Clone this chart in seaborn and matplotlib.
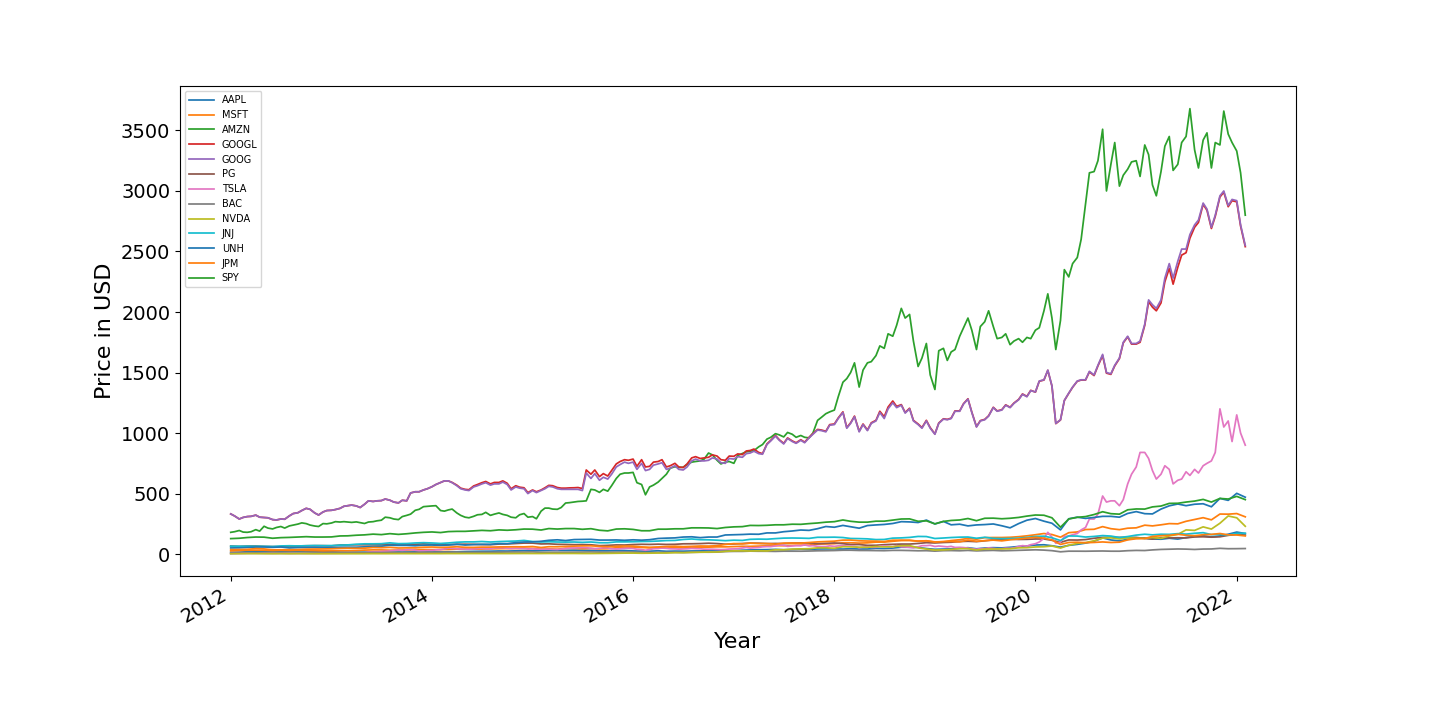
import matplotlib
matplotlib.use("Agg")
import matplotlib.pyplot as plt
import pandas as pd
import seaborn as sns

# ---------------- data ----------------
tickers = ["AAPL", "MSFT", "AMZN", "GOOGL", "GOOG", "PG", "TSLA", "BAC",
           "NVDA", "JNJ", "UNH", "JPM", "SPY"]

# semi-monthly series (1st and 15th of each month, 2012-01-01 .. 2022-02-01)
amzn = [
    180, 185, 195, 182, 180, 185, 202, 190, 230, 215, 208, 220, 228, 215, 233, 240, 248, 258, 252, 240, 232, 228, 252, 250,
    257, 268, 265, 268, 265, 262, 266, 260, 253, 265, 268, 275, 280, 305, 300, 290, 285, 310, 320, 330, 362, 370, 392, 395,
    398, 400, 360, 355, 365, 372, 340, 320, 305, 300, 312, 325, 328, 345, 320, 330, 340, 328, 320, 305, 300, 325, 335, 305,
    310, 292, 355, 380, 380, 372, 370, 385, 422, 425, 430, 435, 437, 440, 535, 530, 510, 535, 520, 565, 625, 660, 670, 670,
    675, 590, 575, 490, 555, 570, 595, 625, 660, 710, 722, 715, 718, 740, 760, 765, 770, 785, 835, 820, 775, 745, 760, 765,
    750, 815, 832, 845, 850, 855, 886, 905, 950, 965, 995, 985, 968, 1005, 990, 965, 980, 965, 960, 1000, 1105, 1130, 1160, 1175,
    1190, 1300, 1420, 1450, 1500, 1580, 1380, 1520, 1580, 1590, 1640, 1720, 1700, 1820, 1800, 1890, 2030, 1950, 1980, 1760, 1550, 1620, 1740, 1480,
    1360, 1680, 1700, 1600, 1670, 1690, 1800, 1870, 1950, 1850, 1690, 1880, 1920, 2010, 1880, 1780, 1790, 1820, 1730, 1760, 1780, 1750, 1790, 1780,
    1850, 1870, 2010, 2150, 1950, 1690, 1930, 2350, 2290, 2400, 2450, 2600, 2890, 3150, 3160, 3250, 3510, 3000, 3220, 3400, 3040, 3130, 3180, 3240,
    3250, 3120, 3380, 3300, 3050, 2960, 3160, 3370, 3450, 3170, 3220, 3400, 3450, 3680, 3340, 3190, 3420, 3480, 3190, 3400, 3380, 3660, 3470, 3400,
    3330, 3150, 2800,
]
goog = [
    332, 315, 290, 303, 310, 312, 322, 305, 302, 300, 285, 282, 290, 288, 316, 335, 342, 360, 378, 370, 340, 323, 348, 360,
    362, 368, 378, 395, 400, 405, 398, 385, 412, 440, 435, 440, 442, 455, 445, 430, 423, 445, 440, 505, 515, 515, 530, 540,
    557, 575, 592, 605, 605, 590, 565, 540, 530, 525, 555, 565, 580, 590, 570, 580, 580, 595, 575, 530, 555, 545, 540, 500,
    525, 508, 525, 540, 560, 555, 540, 535, 535, 535, 535, 535, 525, 670, 625, 665, 610, 635, 620, 660, 720, 740, 760, 750,
    760, 700, 750, 690, 700, 735, 745, 755, 700, 710, 730, 700, 695, 720, 770, 785, 770, 770, 775, 795, 785, 755, 750, 790,
    785, 805, 800, 830, 835, 850, 830, 825, 905, 935, 975, 940, 910, 955, 930, 915, 940, 920, 960, 990, 1025, 1020, 1010, 1065,
    1070, 1120, 1170, 1040, 1080, 1135, 1010, 1070, 1020, 1080, 1100, 1170, 1120, 1200, 1250, 1210, 1230, 1165, 1200, 1100, 1070, 1040, 1100, 1040,
    990, 1080, 1115, 1110, 1120, 1180, 1180, 1240, 1280, 1170, 1050, 1100, 1110, 1140, 1210, 1180, 1190, 1230, 1210, 1245, 1275, 1320, 1300, 1350,
    1340, 1430, 1440, 1520, 1390, 1080, 1110, 1270, 1330, 1380, 1430, 1440, 1440, 1510, 1480, 1560, 1650, 1500, 1490, 1560, 1620, 1750, 1800, 1740,
    1740, 1760, 1900, 2100, 2060, 2030, 2100, 2280, 2400, 2280, 2420, 2520, 2520, 2640, 2720, 2760, 2900, 2850, 2700, 2800, 2960, 3000, 2880, 2930,
    2920, 2720, 2550,
]
googl = [
    332, 315, 290, 303, 310, 312, 322, 305, 302, 300, 285, 282, 290, 288, 316, 335, 342, 360, 378, 370, 340, 323, 348, 360,
    362, 368, 378, 395, 400, 405, 398, 385, 412, 440, 435, 440, 442, 455, 445, 430, 423, 445, 440, 505, 515, 515, 530, 540,
    557, 575, 592, 605, 605, 592, 570, 545, 535, 532, 563, 575, 590, 600, 580, 592, 592, 605, 585, 540, 565, 553, 548, 508,
    530, 515, 530, 548, 568, 565, 550, 545, 545, 547, 548, 550, 542, 695, 660, 695, 640, 665, 645, 690, 745, 765, 780, 775,
    785, 725, 780, 720, 725, 760, 765, 780, 720, 730, 750, 720, 715, 745, 795, 805, 790, 795, 800, 820, 810, 780, 775, 810,
    808, 828, 822, 852, 856, 868, 840, 830, 910, 940, 980, 945, 915, 960, 935, 920, 945, 925, 965, 995, 1030, 1025, 1015, 1070,
    1075, 1125, 1175, 1045, 1085, 1140, 1015, 1075, 1025, 1085, 1105, 1180, 1135, 1215, 1265, 1220, 1235, 1170, 1205, 1105, 1075, 1045, 1105, 1045,
    993, 1083, 1118, 1113, 1123, 1183, 1183, 1243, 1283, 1173, 1053, 1103, 1113, 1143, 1213, 1183, 1193, 1233, 1213, 1248, 1278, 1323, 1303, 1353,
    1338, 1428, 1438, 1518, 1388, 1078, 1108, 1268, 1328, 1378, 1428, 1438, 1438, 1505, 1475, 1555, 1640, 1495, 1485, 1555, 1615, 1745, 1795, 1735,
    1735, 1750, 1890, 2085, 2040, 2010, 2075, 2250, 2360, 2230, 2370, 2470, 2490, 2610, 2700, 2740, 2890, 2840, 2690, 2790, 2950, 2990, 2870, 2920,
    2910, 2710, 2540,
]
tsla = [
    5.7, 5.5, 5.8, 6.6, 6.6, 6.8, 7.0, 6.5, 6.6, 6.2, 6.6, 6.4, 6.2, 6.6, 5.6, 5.8, 5.8, 5.8, 5.6, 5.8, 5.6, 6.5, 6.6, 6.8,
    7.0, 7.2, 7.4, 7.4, 7.0, 7.6, 7.6, 8.5, 10.5, 17.0, 19.5, 19.5, 21.5, 23.8, 26.0, 29.0, 33.4, 30.5, 36.5, 37.0, 32.0, 26.5, 27.0, 29.8,
    30.0, 35.0, 36.5, 42.5, 49.0, 48.0, 44.0, 43.0, 41.0, 40.2, 42.0, 45.5, 48.0, 43.5, 44.5, 50.6, 52.0, 52.0, 48.0, 46.0, 48.0, 46.5, 48.0, 42.0,
    43.5, 41.0, 40.8, 41.5, 40.6, 39.0, 38.0, 41.5, 46.0, 49.0, 50.2, 51.5, 54.0, 53.0, 48.0, 44.0, 48.0, 51.8, 50.4, 44.0, 42.0, 44.6, 47.0, 48.0,
    46.0, 40.0, 38.0, 32.0, 38.0, 44.0, 46.0, 50.0, 47.5, 44.0, 43.0, 41.0, 42.6, 44.0, 47.0, 45.0, 44.0, 41.0, 40.0, 40.2, 38.0, 37.0, 38.6, 42.0,
    43.0, 45.0, 50.0, 55.0, 50.0, 52.0, 55.0, 60.0, 62.4, 62.0, 68.0, 75.0, 73.0, 64.0, 67.0, 70.0, 69.0, 76.0, 68.0, 70.0, 64.0, 62.0, 62.4, 68.0,
    64.0, 68.0, 70.0, 67.0, 66.0, 64.0, 53.0, 58.0, 60.0, 56.0, 57.0, 66.0, 68.0, 64.0, 60.0, 70.0, 60.0, 59.0, 56.0, 52.0, 60.0, 70.0, 70.0, 73.0,
    63.0, 67.0, 63.0, 60.0, 64.0, 55.0, 56.0, 54.0, 50.0, 45.0, 40.0, 45.0, 45.0, 51.0, 47.0, 44.0, 45.0, 49.0, 48.0, 52.0, 63.0, 70.0, 66.0, 78.0,
    86, 100, 130, 180, 140, 90, 100, 145, 150, 160, 170, 200, 220, 290, 290, 330, 480, 430, 440, 440, 400, 450, 580, 660,
    720, 840, 840, 790, 690, 620, 660, 730, 700, 580, 610, 620, 680, 650, 700, 670, 730, 750, 770, 840, 1200, 1050, 1100, 930,
    1150, 1000, 900,
]

# monthly series (1st of each month, 2012-01-01 .. 2022-02-01)
aapl = [
    14.7, 16.3, 19.4, 21.5, 20.9, 20.6, 21.1, 21.7, 23.8, 24.9, 21.3, 21.0,
    19.0, 16.3, 15.7, 15.8, 15.8, 16.0, 14.0, 16.3, 17.3, 17.3, 18.7, 19.9,
    19.8, 17.9, 18.8, 19.2, 21.1, 22.6, 23.6, 24.0, 25.7, 25.2, 27.0, 29.7,
    27.3, 29.3, 32.3, 31.2, 31.5, 32.5, 31.6, 30.3, 27.6, 27.4, 30.0, 29.6,
    26.3, 24.4, 24.2, 27.3, 23.4, 24.9, 24.2, 26.0, 26.5, 28.3, 28.3, 27.6,
    29.0, 32.5, 34.4, 36.0, 36.9, 38.9, 36.0, 37.5, 41.0, 38.9, 42.3, 43.0,
    43.1, 41.9, 44.5, 41.9, 42.3, 47.5, 46.0, 50.0, 57.0, 56.6, 55.4, 46.0,
    39.5, 41.6, 43.5, 47.5, 52.9, 43.8, 50.4, 53.2, 51.4, 56.1, 63.0, 66.8,
    75.1, 77.2, 69.0, 57.5, 72.3, 80.5, 91.0, 106.0, 134.0, 116.8, 108.8, 122.0,
    133.0, 134.0, 125.0, 123.0, 131.0, 124.0, 137.0, 145.0, 152.0, 142.0, 150.0, 164.0,
    182.0, 170.0,
]
msft = [
    26.8, 29.5, 31.7, 32.1, 31.5, 29.1, 30.6, 29.5, 30.8, 29.5, 28.5, 26.7,
    27.4, 27.9, 28.0, 29.0, 33.0, 35.0, 34.5, 32.0, 33.5, 34.0, 36.0, 38.0,
    37.0, 37.8, 38.0, 41.0, 40.5, 41.0, 42.0, 43.0, 45.0, 46.0, 46.5, 48.0,
    46.5, 41.0, 43.5, 40.5, 48.5, 47.0, 44.5, 46.5, 43.5, 44.5, 52.5, 54.0,
    55.5, 55.0, 51.0, 55.0, 50.0, 53.0, 51.0, 56.5, 57.5, 57.5, 60.0, 60.0,
    62.0, 64.5, 64.0, 66.0, 68.5, 70.0, 69.0, 72.5, 74.0, 74.5, 83.0, 84.0,
    86.0, 94.0, 94.0, 91.0, 93.0, 99.0, 99.0, 106.0, 112.0, 114.0, 106.0, 110.0,
    101.0, 102.0, 112.0, 119.0, 130.0, 123.0, 136.0, 137.0, 137.0, 139.0, 144.0, 151.0,
    160.0, 170.0, 162.0, 140.0, 177.0, 183.0, 203.0, 205.0, 227.0, 210.0, 202.0, 214.0,
    217.0, 239.0, 233.0, 242.0, 252.0, 250.0, 271.0, 286.0, 301.0, 283.0, 331.0, 330.0,
    335.0, 308.0,
]
pg = [
    66.5, 63.5, 66.5, 67.0, 63.5, 62.0, 61.0, 64.5, 67.0, 69.0, 69.5, 70.0,
    68.0, 75.0, 76.0, 77.0, 77.0, 77.0, 77.0, 80.0, 78.0, 76.0, 81.0, 85.0,
    81.0, 77.0, 78.0, 80.0, 82.0, 80.5, 78.5, 77.5, 83.0, 84.0, 87.5, 91.0,
    91.0, 84.0, 85.0, 81.0, 80.0, 78.0, 78.5, 77.0, 70.0, 72.0, 76.0, 75.0,
    79.0, 81.0, 80.0, 82.0, 80.0, 81.0, 85.0, 85.5, 87.0, 90.0, 87.0, 82.0,
    84.0, 87.5, 91.0, 90.0, 87.0, 88.0, 87.0, 91.0, 92.0, 91.0, 86.0, 89.0,
    92.0, 86.0, 79.0, 79.0, 72.5, 73.0, 78.0, 81.0, 83.0, 83.0, 88.0, 94.5,
    92.0, 96.0, 98.0, 104.0, 106.0, 103.0, 110.0, 118.0, 120.0, 124.0, 121.0, 122.0,
    125.0, 125.0, 114.0, 97.0, 117.0, 116.0, 120.0, 131.0, 138.0, 139.0, 138.0, 138.0,
    138.0, 129.0, 124.0, 136.0, 134.0, 135.0, 134.0, 142.0, 143.0, 140.0, 143.0, 155.0,
    163.0, 157.0,
]
bac = [
    5.8, 7.3, 8.0, 9.6, 8.1, 7.4, 8.2, 7.3, 8.0, 8.8, 9.3, 9.9,
    11.6, 11.3, 11.2, 12.2, 12.3, 13.7, 12.9, 14.6, 14.1, 13.8, 14.0, 15.8,
    15.6, 16.7, 16.5, 17.2, 15.1, 15.1, 15.4, 15.3, 16.1, 17.0, 17.2, 17.0,
    17.9, 15.2, 15.8, 15.4, 15.9, 16.5, 17.0, 17.9, 16.3, 15.6, 16.8, 17.4,
    16.8, 14.2, 12.5, 13.5, 14.6, 14.8, 13.3, 14.5, 16.1, 15.7, 16.5, 21.1,
    22.5, 22.6, 24.7, 23.6, 23.4, 22.4, 24.3, 24.1, 24.0, 25.3, 27.4, 28.2,
    29.5, 32.0, 32.1, 30.0, 29.9, 29.0, 28.2, 30.9, 30.9, 29.5, 27.5, 28.4,
    24.6, 28.5, 29.2, 27.6, 30.6, 26.6, 29.0, 30.7, 27.5, 29.2, 31.3, 33.3,
    35.6, 33.0, 28.5, 19.0, 24.2, 24.2, 23.8, 24.9, 25.7, 24.1, 24.0, 28.2,
    30.5, 29.6, 34.7, 38.7, 40.5, 42.4, 41.2, 38.4, 41.8, 42.5, 47.8, 44.5,
    45.0, 46.0,
]
nvda = [
    3.4, 3.6, 3.8, 3.9, 3.3, 3.2, 3.5, 3.2, 3.5, 3.3, 3.0, 3.0,
    3.1, 3.2, 3.2, 3.2, 3.4, 3.6, 3.5, 3.7, 3.9, 3.9, 3.8, 3.9,
    4.0, 4.0, 4.5, 4.5, 4.7, 4.7, 4.6, 4.6, 4.6, 4.6, 4.9, 5.2,
    5.0, 5.0, 5.5, 5.3, 5.5, 5.5, 5.0, 5.0, 5.6, 6.2, 7.1, 8.0,
    8.3, 7.2, 7.8, 9.0, 9.0, 11.7, 11.7, 14.3, 15.5, 17.1, 17.3, 23.0,
    26.7, 27.3, 25.5, 27.3, 26.0, 35.8, 36.0, 41.6, 43.0, 44.7, 51.9, 52.0,
    48.4, 61.0, 60.0, 57.0, 56.0, 63.0, 60.0, 61.0, 69.0, 70.0, 52.0, 42.0,
    33.5, 35.0, 39.0, 45.0, 45.0, 34.0, 42.0, 42.0, 43.0, 44.0, 52.0, 53.0,
    59.0, 61.0, 67.0, 50.0, 73.0, 88.0, 95.0, 110.0, 132.0, 135.0, 125.0, 134.0,
    131.0, 130.0, 137.0, 130.0, 150.0, 163.0, 200.0, 196.0, 225.0, 207.0, 255.0, 315.0,
    300.0, 230.0,
]
jnj = [
    65.5, 65.0, 65.5, 65.0, 64.5, 62.5, 67.5, 69.0, 67.5, 69.0, 71.0, 69.5,
    70.5, 74.0, 76.0, 81.5, 85.0, 85.0, 86.0, 93.0, 86.5, 87.5, 92.0, 94.5,
    92.0, 88.0, 92.0, 98.0, 101.0, 101.0, 104.0, 100.0, 103.5, 106.0, 108.0, 113.0,
    104.0, 100.0, 102.0, 100.0, 99.0, 100.0, 97.0, 100.0, 94.0, 94.0, 101.0, 101.0,
    102.0, 104.0, 105.0, 108.0, 112.0, 113.0, 121.0, 125.0, 119.0, 118.0, 115.0, 111.0,
    115.0, 113.0, 122.0, 124.0, 123.0, 128.0, 132.0, 133.0, 132.0, 130.0, 139.0, 139.0,
    140.0, 137.0, 129.0, 128.0, 126.0, 120.0, 121.0, 132.0, 134.0, 138.0, 146.0, 145.0,
    129.0, 133.0, 137.0, 140.0, 141.0, 131.0, 139.0, 130.0, 128.0, 129.0, 132.0, 138.0,
    146.0, 148.0, 135.0, 112.0, 150.0, 149.0, 141.0, 146.0, 153.0, 149.0, 137.0, 145.0,
    157.0, 164.0, 159.0, 164.0, 163.0, 169.0, 165.0, 172.0, 177.0, 161.0, 163.0, 157.0,
    171.0, 172.0,
]
unh = [
    51, 52, 55, 58, 59, 56, 59, 51, 54, 55, 56, 55,
    54, 57, 57, 57, 60, 63, 65, 73, 72, 72, 69, 74,
    75, 72, 75, 82, 75, 79, 81, 81, 87, 86, 95, 100,
    101, 106, 114, 118, 112, 120, 121, 122, 116, 116, 117, 114,
    118, 115, 119, 129, 132, 134, 141, 143, 136, 141, 141, 158,
    160, 162, 165, 164, 175, 175, 185, 191, 199, 196, 210, 228,
    222, 237, 226, 214, 236, 241, 245, 253, 268, 266, 261, 281,
    249, 270, 242, 247, 233, 241, 244, 249, 234, 217, 252, 280,
    294, 272, 255, 200, 292, 305, 295, 303, 312, 312, 305, 336,
    351, 334, 332, 372, 399, 414, 400, 412, 416, 391, 460, 444,
    502, 470,
]
jpm = [
    37.0, 37.5, 39.2, 45.5, 43.0, 35.5, 35.9, 36.0, 37.2, 40.5, 41.7, 42.5,
    44.0, 47.5, 49.0, 47.5, 49.0, 54.5, 53.0, 55.7, 50.5, 51.5, 51.5, 57.0,
    58.5, 55.5, 57.0, 60.5, 56.0, 55.5, 57.5, 57.5, 59.5, 60.0, 60.5, 60.0,
    62.6, 54.5, 61.0, 60.5, 63.5, 66.0, 68.0, 68.5, 64.0, 61.0, 64.5, 67.0,
    66.0, 59.5, 56.5, 59.0, 63.0, 65.0, 62.0, 64.0, 67.0, 66.5, 69.0, 80.0,
    87.0, 84.5, 90.5, 87.5, 87.0, 82.0, 91.0, 91.5, 91.0, 95.5, 101.0, 104.0,
    107.0, 115.5, 116.0, 110.0, 108.0, 107.0, 104.0, 115.0, 115.0, 113.0, 108.0, 110.0,
    99.0, 103.5, 105.0, 101.0, 116.0, 106.0, 111.0, 115.5, 109.5, 118.0, 125.0, 132.0,
    139.0, 132.0, 117.0, 80.0, 96.0, 98.0, 94.0, 96.5, 100.5, 96.0, 98.5, 117.5,
    127.0, 129.0, 146.0, 152.0, 155.0, 164.0, 155.5, 152.0, 160.0, 163.0, 170.0, 159.0,
    158.0, 150.0,
]
spy = [
    128, 131, 137, 141, 140, 131, 136, 138, 141, 144, 141, 141,
    142, 150, 151, 156, 159, 165, 161, 169, 163, 168, 175, 180,
    183, 178, 186, 188, 188, 192, 196, 193, 200, 197, 201, 207,
    206, 199, 211, 207, 211, 211, 205, 210, 197, 192, 207, 209,
    204, 193, 193, 206, 206, 209, 209, 217, 217, 216, 211, 220,
    225, 227, 237, 236, 238, 242, 242, 247, 246, 252, 257, 264,
    268, 282, 271, 264, 264, 272, 272, 281, 290, 291, 271, 275,
    250, 270, 278, 282, 294, 276, 296, 297, 292, 296, 303, 314,
    323, 321, 300, 222, 290, 304, 310, 327, 350, 334, 330, 366,
    373, 372, 390, 397, 419, 420, 430, 438, 452, 430, 460, 455,
    477, 450,
]

# ---------------- assemble ----------------
semi_dates = pd.date_range("2012-01-01", periods=len(amzn), freq="SMS")
month_dates = pd.date_range("2012-01-01", periods=len(spy), freq="MS")

series = {
    "AAPL": aapl, "MSFT": msft, "AMZN": amzn, "GOOGL": googl, "GOOG": goog,
    "PG": pg, "TSLA": tsla, "BAC": bac, "NVDA": nvda, "JNJ": jnj,
    "UNH": unh, "JPM": jpm, "SPY": spy,
}
frames = []
for t in tickers:
    vals = series[t]
    d = semi_dates if len(vals) == len(semi_dates) else month_dates
    if len(vals) != len(d):
        raise ValueError(f"{t}: {len(vals)} values")
    frames.append(pd.DataFrame({"Date": d, "Price": vals, "Ticker": t}))
df = pd.concat(frames, ignore_index=True)

# ---------------- plot ----------------
palette = sns.color_palette("tab10")
fig, ax = plt.subplots(figsize=(14.4, 7.2), dpi=100)
for i, t in enumerate(tickers):
    sns.lineplot(data=df[df["Ticker"] == t], x="Date", y="Price",
                 color=palette[i % 10], label=t, estimator=None,
                 linewidth=1.25, ax=ax)

ax.set_xlabel("Year", fontsize=16)
ax.set_ylabel("Price in USD", fontsize=16)
ax.tick_params(axis="both", labelsize=14)
ax.legend(loc="upper left", fontsize=7, handlelength=2.6, labelspacing=0.5)
fig.autofmt_xdate()
fig.subplots_adjust(left=0.125, right=0.9, top=0.88, bottom=0.2)
fig.savefig("out.png", dpi=100)
